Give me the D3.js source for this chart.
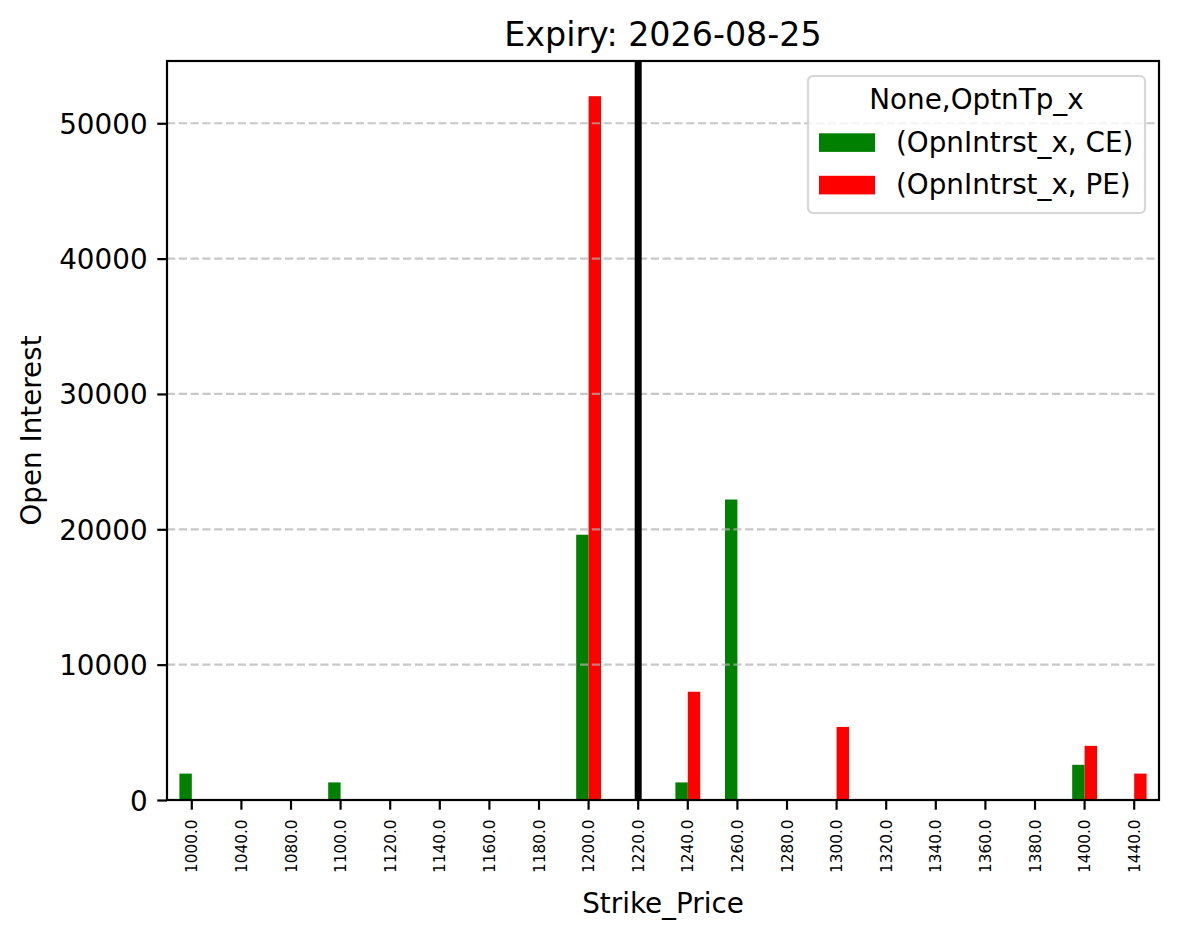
<!DOCTYPE html>
<html>
<head>
<meta charset="utf-8">
<script src="https://cdn.jsdelivr.net/npm/d3@7"></script>
<style>
  body { margin: 0; background: #fff; }
  text { font-family: "DejaVu Sans", sans-serif; fill: #000; }
</style>
</head>
<body>
<div id="chart"></div>
<script>
// data
var strikes = ["1000.0", "1040.0", "1080.0", "1100.0", "1120.0", "1140.0", "1160.0", "1180.0", "1200.0", "1220.0",
               "1240.0", "1260.0", "1280.0", "1300.0", "1320.0", "1340.0", "1360.0", "1380.0", "1400.0", "1440.0"];
var ceOI = [1950, 0, 0, 1300, 0, 0, 0, 0, 19600, 0, 1300, 22200, 0, 0, 0, 0, 0, 0, 2600, 0];
var peOI = [0, 0, 0, 0, 0, 0, 0, 0, 52000, 0, 8000, 0, 0, 5400, 0, 0, 0, 0, 4000, 1950];
var yTicks = [0, 10000, 20000, 30000, 40000, 50000];
var spotStrike = "1220.0";
var seriesNames = ["(OpnIntrst_x, CE)", "(OpnIntrst_x, PE)"];
var seriesColors = ["green", "red"];
var legendTitle = "None,OptnTp_x";
var chartTitle = "Expiry: 2026-08-25";

var W = 1179, H = 939;
var margin = {top: 61, right: 20, bottom: 139, left: 167},
    width = W - margin.left - margin.right,
    height = H - margin.top - margin.bottom;

var svg = d3.select("#chart")
  .append("svg")
    .attr("width", W)
    .attr("height", H)
  .append("g")
    .attr("transform", "translate(" + margin.left + "," + margin.top + ")");

var x = d3.scaleBand()
  .domain(strikes)
  .range([0, width])
  .padding(0);

var y = d3.scaleLinear()
  .domain([0, d3.max(peOI.concat(ceOI)) * 1.05])
  .range([height, 0]);

var barW = x.bandwidth() * 0.25;

// bars, CE left of the tick, PE right of it
var rows = strikes.map(function(s, i){ return {k: s, ce: ceOI[i], pe: peOI[i]}; });

svg.selectAll("ceBars")
  .data(rows.filter(function(d){ return d.ce > 0; }))
  .enter()
  .append("rect")
    .attr("x", function(d){ return x(d.k) + x.bandwidth()/2 - barW; })
    .attr("y", function(d){ return y(d.ce); })
    .attr("width", barW)
    .attr("height", function(d){ return y(0) - y(d.ce); })
    .style("fill", seriesColors[0]);

svg.selectAll("peBars")
  .data(rows.filter(function(d){ return d.pe > 0; }))
  .enter()
  .append("rect")
    .attr("x", function(d){ return x(d.k) + x.bandwidth()/2; })
    .attr("y", function(d){ return y(d.pe); })
    .attr("width", barW)
    .attr("height", function(d){ return y(0) - y(d.pe); })
    .style("fill", seriesColors[1]);

// y grid (drawn over the bars like matplotlib does)
svg.selectAll("gridLines")
  .data(yTicks)
  .enter()
  .append("line")
    .attr("x1", 0)
    .attr("x2", width)
    .attr("y1", function(d){ return y(d); })
    .attr("y2", function(d){ return y(d); })
    .attr("stroke", "#b0b0b0")
    .attr("stroke-opacity", 0.7)
    .attr("stroke-width", 2.2)
    .style("stroke-dasharray", "8.2, 3.6");

// spot line
svg.append("line")
  .attr("x1", x(spotStrike) + x.bandwidth()/2)
  .attr("x2", x(spotStrike) + x.bandwidth()/2)
  .attr("y1", 0)
  .attr("y2", height)
  .attr("stroke", "black")
  .attr("stroke-width", 7);

// axes
var yAxis = svg.append("g")
  .call(d3.axisLeft(y).tickValues(yTicks).tickFormat(d3.format("d")).tickSize(9.7).tickPadding(9.7));
yAxis.select(".domain").remove();
yAxis.selectAll("line").attr("stroke-width", 2.2);
yAxis.selectAll("text").style("font-size", "27.8px").attr("dy", "0.36em");

var xAxis = svg.append("g")
  .attr("transform", "translate(0," + height + ")")
  .call(d3.axisBottom(x).tickSize(9.7).tickPadding(0));
xAxis.select(".domain").remove();
xAxis.selectAll("line").attr("stroke-width", 2.2);
xAxis.selectAll("text")
  .style("font-size", "15.3px")
  .attr("text-anchor", "end")
  .attr("transform", "translate(0,19.5) rotate(-90)")
  .attr("x", 0)
  .attr("y", 0)
  .attr("dy", "0.36em");

// frame
svg.append("rect")
  .attr("x", 0)
  .attr("y", 0)
  .attr("width", width)
  .attr("height", height)
  .attr("fill", "none")
  .attr("stroke", "black")
  .attr("stroke-width", 2.2);

// title and labels
svg.append("text")
  .attr("x", width/2)
  .attr("y", 46 - margin.top)
  .attr("text-anchor", "middle")
  .style("font-size", "33.3px")
  .text(chartTitle);

svg.append("text")
  .attr("x", width/2)
  .attr("y", 913 - margin.top)
  .attr("text-anchor", "middle")
  .style("font-size", "27.8px")
  .text("Strike_Price");

svg.append("text")
  .attr("transform", "translate(" + (41 - margin.left) + "," + (height/2) + ") rotate(-90)")
  .attr("text-anchor", "middle")
  .style("font-size", "27.8px")
  .text("Open Interest");

// legend
var lg = svg.append("g")
  .attr("transform", "translate(" + (808 - margin.left) + "," + (76 - margin.top) + ")");

lg.append("rect")
  .attr("width", 337)
  .attr("height", 137)
  .attr("rx", 5)
  .attr("fill", "white")
  .attr("fill-opacity", 0.8)
  .attr("stroke", "#cccccc")
  .attr("stroke-opacity", 0.8)
  .attr("stroke-width", 2.2);

lg.append("text")
  .attr("x", 337/2)
  .attr("y", 33)
  .attr("text-anchor", "middle")
  .style("font-size", "27.8px")
  .text(legendTitle);

var items = lg.selectAll("legItems")
  .data(seriesNames)
  .enter()
  .append("g")
    .attr("transform", function(d, i){ return "translate(0," + (i * 42.5) + ")"; });

items.append("rect")
  .attr("x", 11)
  .attr("y", 57.3)
  .attr("width", 56)
  .attr("height", 18.6)
  .style("fill", function(d, i){ return seriesColors[i]; });

items.append("text")
  .attr("x", 88)
  .attr("y", 75.7)
  .style("font-size", "27.8px")
  .text(function(d){ return d; });
</script>
</body>
</html>
